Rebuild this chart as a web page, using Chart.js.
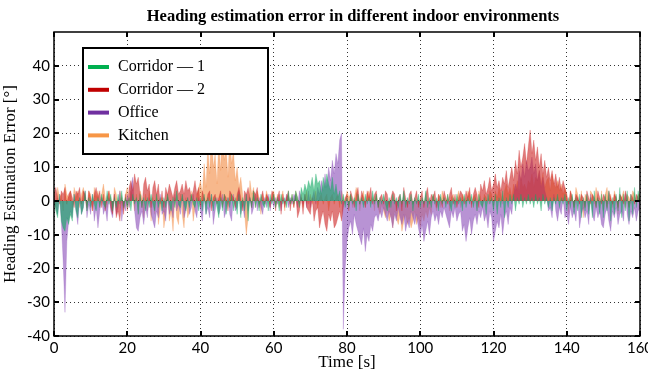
<!DOCTYPE html>
<html>
<head>
<meta charset="utf-8">
<script src="https://cdn.jsdelivr.net/npm/chart.js@4.4.0/dist/chart.umd.min.js"></script>
<style>
html, body { margin: 0; padding: 0; background: #fff; }
#wrap { width: 648px; height: 369px; }
</style>
</head>
<body>
<div id="wrap"><canvas id="grafico" width="648" height="369"></canvas></div>
<script>
// Datos (un valor cada 0.5 s, 0..160 s)
var series = ['Corridor — 1', 'Corridor — 2', 'Office', 'Kitchen'];
var paso = 0.5;

var corridor1 = [
    0, -3, -5, 2, -6, -8, -9, -5, -7, -4,
    -6, 2, -3, -5, 1, -4, -2, 3, -3, 1,
    -2, 2, -1, -3, 1, -2, 2, -1, -2, 3,
    -1, 2, -3, 1, -2, 2, -1, 3, -2, 1,
    -2, 1, -3, 2, -1, 1, -4, 2, -2, 1,
    -3, 1, -2, 2, -1, -3, 2, -2, 1, -3,
    1, -2, 2, -1, -3, 1, -2, 3, -1, -2,
    2, -1, -3, 1, -2, 2, -1, -2, 1, -3,
    1, -3, 2, -4, 1, -2, 2, -3, 1, -2,
    -5, 1, -3, 2, -4, 1, -2, 2, -3, 1,
    -4, 2, -5, 1, -3, 2, -6, 1, -2, 3,
    -2, 1, -3, 2, -1, -2, 1, -3, 2, -1,
    2, -2, 1, -3, 2, -1, 1, -2, 3, -1,
    2, -1, 3, 1, -2, 4, 2, 5, 3, 6,
    4, 7, 3, 8, 5, 6, 2, 7, 4, 8,
    5, 3, 7, 2, 5, 1, 3, -1, 2, -2,
    1, -2, 2, -1, 1, -3, 2, -1, 1, -2,
    2, -1, 1, -2, 3, -1, 2, -2, 1, -1,
    2, -1, -3, 1, -2, 2, -1, 1, -2, 2,
    -1, 3, -2, 1, -1, 2, -3, 1, -1, 2,
    -2, 1, -1, 3, -2, 1, -2, 2, -1, 1,
    -3, 2, -1, 1, -2, 2, -1, -3, 1, -2,
    2, -1, 1, -3, 2, -2, 1, -1, 2, -2,
    1, -3, 2, -1, -2, 1, -4, 2, -1, 1,
    -3, 2, -4, 1, -2, 3, -5, 1, -2, 2,
    -1, 2, -3, 1, -1, 2, -2, 1, -1, 2,
    -1, 1, -2, 2, -1, 1, -3, 2, -1, 1,
    -2, 1, -3, 1, -1, 2, -2, 1, -1, 2,
    -3, 1, -2, 2, -4, 1, -3, 2, -5, 1,
    -3, 2, -4, 1, -5, 3, -2, 1, -4, 2,
    -5, 2, -3, 3, -6, 1, -4, 2, -3, 4,
    -5, 2, -3, 3, -6, 2, -4, 4, -2, 3,
    -1
];

var corridor2 = [
    2, 4, 1, -1, 3, 2, 4, -1, 2, 3,
    1, -2, 3, 2, 4, -1, 3, 2, -2, 3,
    1, -3, 2, 4, 1, 3, -2, 2, -3, 1,
    3, -2, -4, 2, -5, -3, -6, 1, -4, 2,
    -3, 4, 6, 3, 8, 5, 7, 2, -2, 5,
    7, 3, 5, -2, 4, 6, 2, 5, -1, 3,
    -2, 4, 2, 5, 3, 1, 4, 6, 2, 3,
    5, 2, 6, 3, 4, 1, 3, 6, 2, 4,
    -2, 3, 1, -1, 2, 3, -3, 1, 2, -1,
    1, 3, -2, 2, 1, -3, 3, 2, 1, -2,
    2, 4, 1, -3, 3, 2, 4, 1, -2, 3,
    2, 4, -2, 1, 3, -1, 2, 1, -2, 3,
    2, -3, 1, 3, -4, 2, -2, 1, 3, -3,
    1, -2, 2, -5, -3, 1, -4, 2, -2, -3,
    -4, 1, -6, -3, -2, -8, -5, -3, -7, -9,
    -4, -6, -3, -8, -7, -5, -3, -6, -2, 1,
    2, -3, 3, 1, -2, 2, 4, -1, 3, 1,
    -2, 3, 1, 4, -1, 2, 3, -2, 1, 2,
    -1, 3, 2, -2, 1, 3, 2, -3, 1, 2,
    -3, 4, 1, -2, 2, 3, -1, 1, 3, -2,
    1, 3, -2, 2, 4, -1, 2, 1, 3, -2,
    2, 1, -2, 3, 1, -1, 2, 4, -1, 2,
    -2, 1, 3, 2, -1, 3, 1, 4, -2, 2,
    4, 2, -2, 5, 3, 6, 2, 4, 7, 3,
    5, 8, 4, 6, 3, 7, 5, 9, 4, 7,
    10, 6, 12, 8, 15, 10, 13, 17, 11, 16,
    21, 14, 18, 12, 16, 10, 14, 8, 12, 7,
    10, 6, 9, 5, 8, 4, 7, 3, 6, 4,
    2, -1, 3, 1, -2, 2, 1, -1, 2, 1,
    -2, 3, 1, -1, 2, 1, -2, 3, 1, -1,
    2, 1, -2, 3, 1, -1, 2, 1, -2, 2,
    1, -1, 3, 1, -2, 2, 1, -1, 2, 1,
    0
];

var office = [
    1, -2, -4, 2, -6, -18, -33, -12, -6, -3,
    -5, 2, -3, -7, 1, -4, -2, 3, -5, -1,
    -4, 2, -6, -2, -8, -3, 1, -4, -2, -6,
    1, -3, -5, 2, -4, -2, 3, -6, -1, -3,
    2, -2, 4, 7, -3, -8, -9, -5, -3, -7,
    -2, -5, 1, -4, -6, -8, -3, -5, 2, -4,
    -3, -6, 1, -4, -2, -5, 2, -3, -1, -4,
    2, -5, -3, 1, -4, -2, 2, -3, -5, 1,
    -3, -6, 1, -4, -2, -5, 2, -7, -3, 1,
    -4, -2, 2, -5, -3, 1, -4, -6, 2, -3,
    -2, 3, -4, -1, -5, 2, -3, 1, -4, -2,
    2, -3, 1, -2, -4, 1, -2, 2, -3, 1,
    -2, 1, -1, 2, -3, 1, -1, 2, -2, 1,
    -1, 2, 1, -2, 3, 1, -1, 2, -2, 3,
    -2, 1, 3, -1, 4, 2, 6, 3, 8, 4,
    10, 6, 12, 8, 14, 11, 18, 20, -38, -20,
    -12, -8, -6, -10, -4, -7, -9, -11, -13, -8,
    -15, -10, -12, -7, -9, -5, -4, -6, -3, -5,
    -2, -4, -6, -3, -5, -8, -4, -6, -2, -5,
    -7, -4, -9, -6, -8, -3, -5, -7, -4, -8,
    -11, -7, -12, -9, -6, -10, -5, -3, -6, -4,
    -7, -3, -5, -2, -4, -6, -8, -3, -5, -2,
    -6, -4, -3, -9, -7, -12, -8, -5, -10, -6,
    -4, -7, -3, -5, -2, -6, -4, -8, -3, -5,
    -12, -9, -6, -8, -4, -10, -5, -3, -7, -2,
    -4, 2, 5, 3, 9, 6, 11, 7, 12, 9,
    10, 13, 8, 11, 6, 9, 4, 7, 3, 1,
    -3, -2, -5, 2, -3, -6, -2, -4, 1, -5,
    -4, -7, -2, -5, -3, -6, 1, -8, -4, -2,
    -5, -3, -7, 2, -4, -6, -2, -5, -3, -7,
    -8, -4, -2, -6, -9, -3, -5, -2, -7, -4,
    -3, -6, 2, -4, -7, -3, -5, -2, -6, -3,
    -2
];

var kitchen = [
    3, -2, 4, 1, 2, -3, 5, 2, 1, 3,
    -2, 4, 1, 3, -2, 2, 4, 1, -3, 3,
    2, -3, 4, 1, 3, -2, 2, 5, 1, -2,
    3, 1, -2, 4, 2, -1, 3, 1, -2, 2,
    4, -2, 3, 1, -3, 2, -4, 3, 1, -5,
    2, -3, 3, -6, 1, -4, 2, -7, -3, 1,
    -8, -4, 2, -6, -3, -9, 1, -5, -7, 2,
    -4, -8, 1, -5, -3, 3, -6, -2, 2, 4,
    6, 2, 11, 4, 16, 8, 22, 10, 14, 5,
    18, 9, 25, 12, 16, 7, 20, 11, 15, 6,
    10, 4, 7, 2, -3, -10, -5, 6, 2, 4,
    -2, 3, 1, -4, 2, -1, 3, 1, -2, 2,
    3, -1, 2, -2, 1, 3, -3, 2, 1, -1,
    2, -2, 3, 1, -1, 2, -2, 1, 3, -1,
    2, -1, 1, 3, -2, 1, 2, -1, 1, 2,
    -3, 1, 2, -1, 1, 2, -2, 3, 1, -1,
    3, 1, 2, -2, 1, 4, 2, -3, 1, 3,
    -2, 2, 3, -1, 1, -3, 2, -2, -4, -1,
    -3, -5, -2, -6, -4, -8, -3, -5, -7, -4,
    -9, -6, -4, -7, -5, -8, -6, -3, -7, -5,
    -8, -4, -6, -3, -5, -2, -4, 2, -1, -3,
    2, -2, 3, 1, -1, 2, -3, 1, 2, -1,
    1, 3, -2, 2, 1, -1, 3, 2, -1, 1,
    2, -3, 3, 1, -2, 2, 1, -1, 3, 2,
    -2, 3, 1, 4, 2, -1, 3, 5, 2, 4,
    1, 5, 3, 6, 2, 7, 4, 5, 3, 6,
    5, 8, 4, 7, 6, 9, 5, 8, 4, 6,
    7, 3, 8, 5, 4, 6, 3, 5, 2, 4,
    2, -4, 3, 1, -2, 4, 2, -1, 3, -5,
    2, 1, -3, 3, 2, -1, 4, 1, -2, 3,
    -3, 2, 4, -1, 2, -2, 3, 1, -4, 2,
    1, 3, -2, 2, 1, -1, 3, 2, -1, 2,
    2
];

var xTicks = [0, 20, 40, 60, 80, 100, 120, 140, 160];
var yTicks = [-40, -30, -20, -10, 0, 10, 20, 30, 40];
var tituloGrafico = 'Heading estimation error in different indoor environments';

var coloresLinea = ['#00b050', '#c00000', '#7030a0', '#f79646'];
var coloresRelleno = ['rgba(20,170,100,0.62)', 'rgba(205,40,40,0.62)', 'rgba(140,80,185,0.62)', 'rgba(242,140,70,0.62)'];

function puntos(valores) {
    return valores.map(function (v, i) { return { x: i * paso, y: v }; });
}

var valores = [corridor1, corridor2, office, kitchen];
var datasets = valores.map(function (v, i) {
    return {
        label: series[i],
        data: puntos(v),
        borderColor: coloresRelleno[i],
        backgroundColor: coloresRelleno[i],
        legendColor: coloresLinea[i],
        borderWidth: 0.4,
        pointRadius: 0,
        tension: 0,
        fill: 'origin'
    };
});

// marco, marcas interiores, título y leyenda
var marcoPlugin = {
    id: 'marco',
    afterDatasetsDraw: function (chart) {
        var ctx = chart.ctx, a = chart.chartArea;
        var xs = chart.scales.x, ys = chart.scales.y;
        ctx.save();
        ctx.strokeStyle = '#000';
        ctx.lineWidth = 1.5;
        ctx.strokeRect(a.left, a.top, a.right - a.left, a.bottom - a.top);
        ctx.lineWidth = 2;
        ctx.beginPath();
        xTicks.forEach(function (v) {
            var px = Math.round(xs.getPixelForValue(v));
            ctx.moveTo(px, a.bottom); ctx.lineTo(px, a.bottom - 5);
            ctx.moveTo(px, a.top); ctx.lineTo(px, a.top + 5);
        });
        yTicks.forEach(function (v) {
            var py = Math.round(ys.getPixelForValue(v));
            ctx.moveTo(a.left, py); ctx.lineTo(a.left + 5, py);
            ctx.moveTo(a.right, py); ctx.lineTo(a.right - 5, py);
        });
        ctx.stroke();

        // título
        ctx.fillStyle = '#000';
        ctx.font = 'bold 16.5px "Liberation Serif"';
        ctx.textAlign = 'center';
        ctx.textBaseline = 'middle';
        ctx.fillText(tituloGrafico, 353, 17);

        // leyenda
        var lx = a.left + 29, ly = a.top + 16;
        ctx.fillStyle = '#fff';
        ctx.fillRect(lx, ly, 185, 106);
        ctx.lineWidth = 2;
        ctx.strokeRect(lx, ly, 185, 106);
        ctx.font = '16px "Liberation Serif"';
        ctx.textAlign = 'left';
        chart.data.datasets.forEach(function (ds, i) {
            var y = ly + 19 + i * 22.8;
            ctx.strokeStyle = ds.legendColor;
            ctx.lineWidth = 4;
            ctx.beginPath();
            ctx.moveTo(lx + 5, y); ctx.lineTo(lx + 26, y);
            ctx.stroke();
            ctx.fillStyle = '#000';
            ctx.fillText(ds.label, lx + 35, y);
        });
        ctx.restore();
    }
};

var ctx = document.getElementById('grafico').getContext('2d');
var grafico = new Chart(ctx, {
    type: 'line',
    data: { datasets: datasets },
    options: {
        responsive: false,
        animation: false,
        layout: { padding: { left: 0, right: 8, top: 32, bottom: 0 } },
        plugins: {
            legend: { display: false },
            tooltip: { enabled: false },
            title: { display: false }
        },
        scales: {
            x: {
                type: 'linear',
                min: 0,
                max: 160,
                afterBuildTicks: function (s) { s.ticks = xTicks.map(function (v) { return { value: v }; }); },
                afterFit: function (s) { s.height = 33; s.paddingRight = 0; s.paddingLeft = 0; },
                ticks: { color: '#000', font: { family: 'Lato', size: 15 }, padding: 3, maxRotation: 0 },
                grid: { color: 'rgba(0,0,0,0.8)', drawTicks: false },
                border: { display: false, dash: [1, 3] },
                title: { display: true, text: 'Time [s]', color: '#000', font: { family: 'Liberation Serif', size: 17 }, padding: { top: 0, bottom: -4 } }
            },
            y: {
                min: -40,
                max: 50,
                afterBuildTicks: function (s) { s.ticks = yTicks.map(function (v) { return { value: v }; }); },
                afterFit: function (s) { s.width = 54; },
                ticks: { color: '#000', font: { family: 'Lato', size: 15 }, padding: 4 },
                grid: { color: 'rgba(0,0,0,0.8)', drawTicks: false },
                border: { display: false, dash: [1, 3] },
                title: { display: true, text: 'Heading Estimation Error [°]', color: '#000', font: { family: 'Liberation Serif', size: 17 }, padding: 0 }
            }
        }
    },
    plugins: [marcoPlugin]
});
</script>
</body>
</html>
